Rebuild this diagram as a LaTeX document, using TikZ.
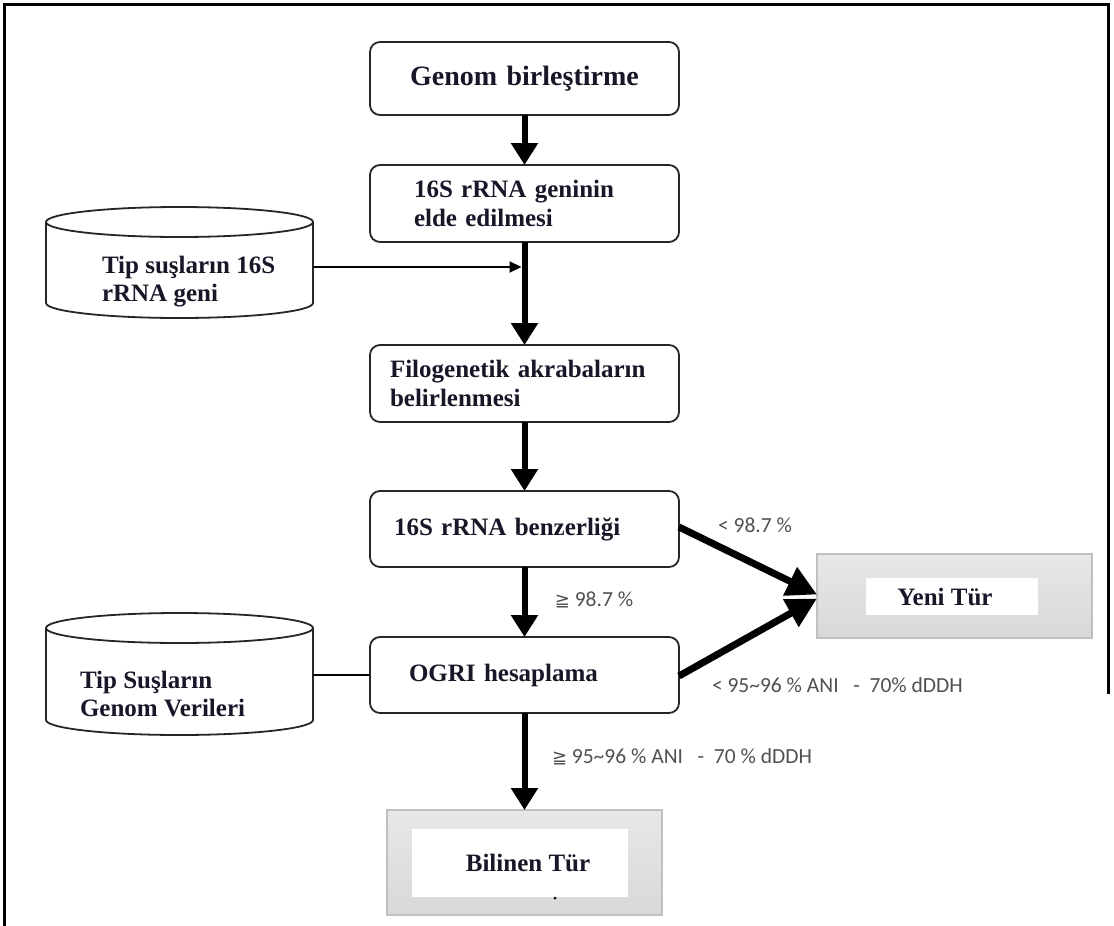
\documentclass[tikz,border=0pt]{standalone}
\usepackage{fontspec}
\setmainfont{Liberation Serif}
\newfontfamily\labfont{Carlito}
\newfontfamily\symfont{DejaVu Sans}
\usetikzlibrary{arrows.meta}
\definecolor{txt}{RGB}{25,22,40}
\definecolor{labgray}{RGB}{80,80,80}
\definecolor{boxgray}{RGB}{216,216,216}
\definecolor{boxedge}{RGB}{192,192,192}
\begin{document}
\begin{tikzpicture}[x=1pt,y=-1pt,
  every node/.style={inner sep=0pt, outer sep=0pt},
  proc/.style={draw=black!85, line width=1.8pt, rounded corners=10pt, fill=white,
    minimum width=309pt, inner ysep=0pt, align=left, text=txt,
    font=\fontsize{25}{29}\selectfont\bfseries},
  cylbody/.style={minimum width=267pt},
  cyltext/.style={anchor=west, align=left, text=txt, font=\fontsize{25}{28}\selectfont\bfseries},
  cylline/.style={draw=black!85, line width=1.8pt},
  result/.style={draw=boxedge, line width=1.2pt, top color=boxgray!60, bottom color=boxgray, minimum width=275pt},
  resultin/.style={fill=white, text=txt, font=\fontsize{25}{29}\selectfont\bfseries},
  flow/.style={line width=6pt, -{Triangle[length=22pt,width=26pt]}},
  diag/.style={line width=7pt, -{Triangle[length=30pt,width=30pt]}},
  feed/.style={line width=2pt, -{Triangle[length=12pt,width=11pt]}},
  link/.style={line width=2.5pt},
  lab/.style={text=labgray, font=\fontsize{21.5}{25}\selectfont\labfont},
]
\useasboundingbox (0,0) rectangle (1114,926);
\draw[line width=3pt] (1108,694) -- (1108,4) -- (4,4) -- (4,926);

% process boxes
\node[proc, minimum height=73pt, align=center, text width=300pt, inner xsep=4.5pt,
  font=\fontsize{28}{32}\selectfont\bfseries] (b1) at (524.5,78.5) {Genom birleştirme};
\node[proc, minimum height=77pt, text width=221pt, inner xsep=44pt] (b2) at (524.5,203.5) {16S rRNA geninin\\elde edilmesi};
\node[proc, minimum height=77pt, text width=269pt, inner xsep=20pt] (b3) at (524.5,383.5) {Filogenetik akrabaların\\belirlenmesi};
\node[proc, minimum height=76pt, text width=261pt, inner xsep=24pt] (b4) at (524.5,529) {16S rRNA benzerliği};
\node[proc, minimum height=76pt, text width=231pt, inner xsep=39pt] (b5) at (524.5,675) {OGRI hesaplama};

% cylinder 1
\draw[cylline, fill=white] (46,222) -- (46,303) arc[start angle=180, end angle=360, x radius=133.5pt, y radius=15pt] -- (313,222);
\draw[cylline, fill=white] (179.5,222) ellipse [x radius=133.5pt, y radius=15pt];
\node[cylbody, minimum height=98pt] (c1) at (179.5,271) {};
\node[cyltext] (c1t) at (102,282) {Tip suşların 16S\\rRNA geni};

% cylinder 2
\draw[cylline, fill=white] (46,628) -- (46,720) arc[start angle=180, end angle=360, x radius=133.5pt, y radius=15pt] -- (313,628);
\draw[cylline, fill=white] (179.5,628) ellipse [x radius=133.5pt, y radius=15pt];
\node[cylbody, minimum height=107pt] (c2) at (179.5,681) {};
\node[cyltext] (c2t) at (80,694) {Tip Suşların\\Genom Verileri};

% result boxes
\node[result, minimum height=84pt] (yt) at (954.5,596) {};
\node[resultin, minimum width=172pt, minimum height=37pt] (yi) at (952,596.5) {\hspace*{-14pt}Yeni Tür};
\node[result, minimum height=105pt] (bt) at (524.5,862.5) {};
\node[resultin, minimum width=216pt, minimum height=68pt] (bi) at (520,863) {\hspace*{16pt}\raisebox{-3pt}{Bilinen Tür}};
\fill (555,898) circle[radius=1.5pt];

% connectors
\coordinate (j1) at (521.5,267);
\draw[flow] (b1.south) -- (b2.north);
\draw[flow] (b2.south) -- (b3.north);
\draw[feed] (c1.east |- j1) -- (j1);
\draw[flow] (b3.south) -- (b4.north);
\draw[flow] (b4.south) -- (b5.north);
\draw[flow] (b5.south) -- (bt.north);
\draw[link] (c2.east |- b5.west) -- (b5.west);
\draw[diag] ([yshift=2pt]b4.east) -- ([yshift=1.5pt]yt.west);
\draw[diag] ([yshift=-1pt]b5.east) -- ([yshift=-2.5pt]yt.west);

% labels
\node[lab] (l1) at (755,525) {< 98.7 \%};
\node[lab] (l2) at (594,600) {{\symfont\fontsize{18}{20}\selectfont ≧} 98.7 \%};
\node[lab, anchor=west] (l3) at (712,685) {< 95\textasciitilde 96 \% ANI \ \ - \ 70\% dDDH};
\node[lab, anchor=west] (l4) at (552,757) {{\symfont\fontsize{18}{20}\selectfont ≧} 95\textasciitilde 96 \% ANI \ \ - \ 70 \% dDDH};
\end{tikzpicture}
\end{document}
